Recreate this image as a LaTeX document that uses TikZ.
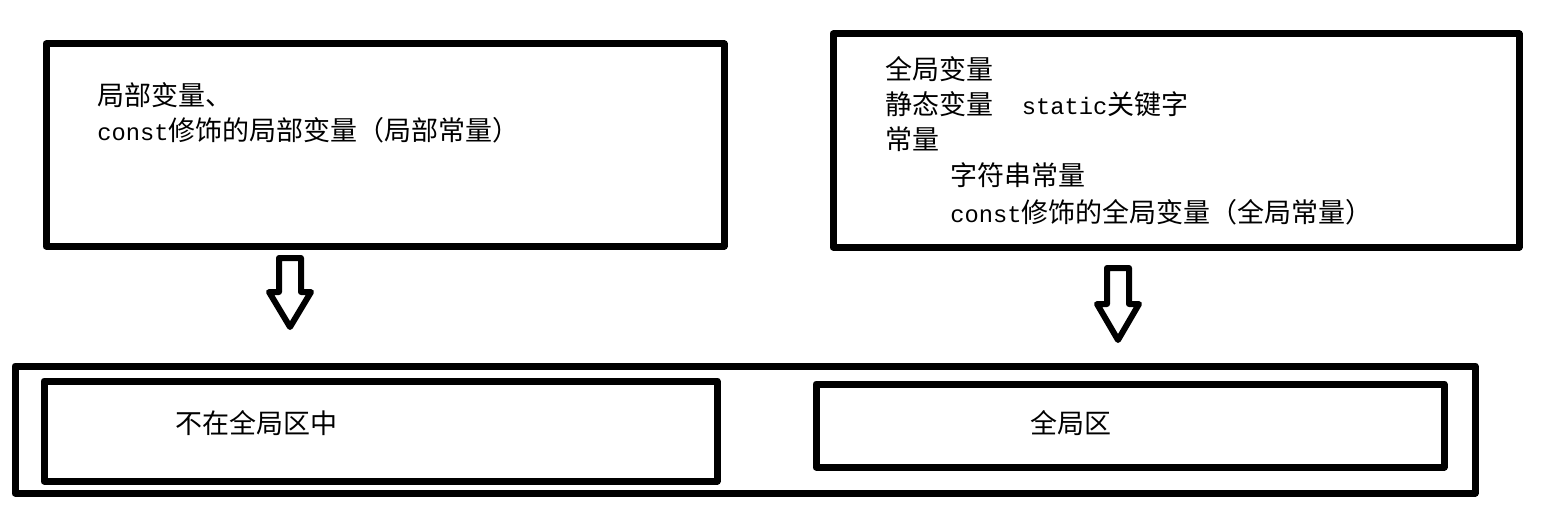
\documentclass[tikz,border=0pt]{standalone}
\usepackage{fontspec}
\setmainfont{Noto Sans CJK SC}
\newfontfamily\mono{Liberation Mono}[Scale=0.88]
\usetikzlibrary{fit}
\begin{document}
\begin{tikzpicture}[x=0.5pt, y=-0.5pt, line join=round]
	\tikzset{box/.style={draw, line width=3.5pt, inner sep=0pt},
		txt/.style={anchor=base west, inner sep=0pt, font=\fontsize{13.5}{17}\selectfont},
		hollow/.style={draw, line width=3pt, line join=round}}
	\useasboundingbox (0,0) rectangle (1550,513);
	% top boxes
	\node[box, fit={(46,44) (724,246)}] (localbox) {};
	\node[box, fit={(833,34) (1519,247)}] (globalbox) {};
	\node[txt] (l1) at (97,106) {局部变量、};
	\node[txt] (l2) at (97,141) {{\mono const}修饰的局部变量（局部常量）};
	\node[txt] (g1) at (885,80) {全局变量};
	\node[txt] (g2) at (885,115) {静态变量{\mono\ \ static}关键字};
	\node[txt] (g3) at (885,150) {常量};
	\node[txt] (g4) at (950,186) {字符串常量};
	\node[txt] (g5) at (950,222) {{\mono const}修饰的全局变量（全局常量）};
	% hollow arrows
	\coordinate (la) at (290,258);
	\coordinate (ra) at (1118,268);
	\draw[hollow] (la) ++(-11,0) -- ++(22,0) -- ++(0,34) -- ++(10,0) -- ++(-21,35) -- ++(-21,-35) -- ++(10,0) -- cycle;
	\draw[hollow] (ra) ++(-11,0) -- ++(22,0) -- ++(0,36) -- ++(10,0) -- ++(-21,36) -- ++(-21,-36) -- ++(10,0) -- cycle;
	% memory areas
	\node[box, fit={(15,366) (1475,493)}] (memory) {};
	\node[box, fit={(44,381) (717,481)}] (notglobal) {};
	\node[box, fit={(816,384) (1444,467)}] (globalarea) {};
	\node[txt] (n1) at (175,433) {不在全局区中};
	\node[txt] (n2) at (1030,433) {全局区};
\end{tikzpicture}
\end{document}
